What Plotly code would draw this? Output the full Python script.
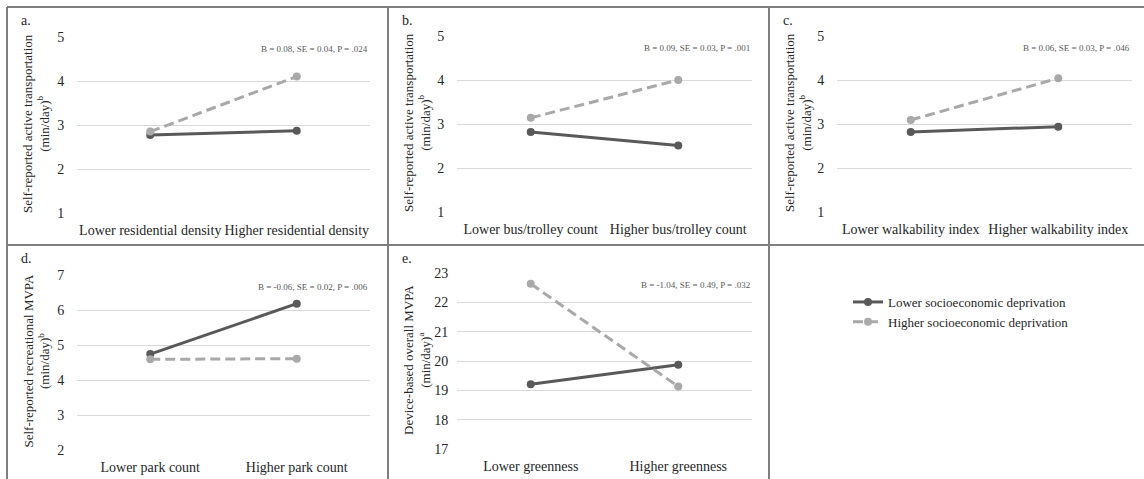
import plotly.graph_objects as go

W, H = 1144, 479
FONT = "Liberation Serif, Times New Roman, serif"
DARK = "#595959"
LIGHT = "#a9a9a9"
GRID = "#d9d9d9"
BORDER = "#7f7f7f"
TXT = "#262626"

series_names = ["Lower socioeconomic deprivation", "Higher socioeconomic deprivation"]

# panel a
cats_a = ["Lower residential density", "Higher residential density"]
lower_a = [2.77, 2.87]
higher_a = [2.85, 4.10]
# panel b
cats_b = ["Lower bus/trolley count", "Higher bus/trolley count"]
lower_b = [2.82, 2.51]
higher_b = [3.14, 4.00]
# panel c
cats_c = ["Lower walkability index", "Higher walkability index"]
lower_c = [2.82, 2.94]
higher_c = [3.09, 4.04]
# panel d
cats_d = ["Lower park count", "Higher park count"]
lower_d = [4.74, 6.18]
higher_d = [4.59, 4.61]
# panel e
cats_e = ["Lower greenness", "Higher greenness"]
lower_e = [19.21, 19.87]
higher_e = [22.63, 19.13]

stats = [
    "B = 0.08, SE = 0.04, P = .024",
    "B = 0.09, SE = 0.03, P = .001",
    "B = 0.06, SE = 0.03, P = .046",
    "B = -0.06, SE = 0.02, P = .006",
    "B = -1.04, SE = 0.49, P = .032",
]
ytitles = [
    "Self-reported active transportation<br>(min/day)<sup>b</sup>",
    "Self-reported active transportation<br>(min/day)<sup>b</sup>",
    "Self-reported active transportation<br>(min/day)<sup>b</sup>",
    "Self-reported recreational MVPA<br>(min/day)<sup>b</sup>",
    "Device-based overall MVPA<br>(min/day)<sup>a</sup>",
]
panel_labels = ["a.", "b.", "c.", "d.", "e."]
yranges = [[1, 5], [1, 5], [1, 5], [2, 7], [17, 23]]
ydticks = [1, 1, 1, 1, 1]

panels = [
    (cats_a, lower_a, higher_a),
    (cats_b, lower_b, higher_b),
    (cats_c, lower_c, higher_c),
    (cats_d, lower_d, higher_d),
    (cats_e, lower_e, higher_e),
]

# layout geometry in pixels (left, right, top, bottom) of plotting areas
boxes = [
    (77, 370, 37, 213),
    (457, 752, 36, 212),
    (837, 1132, 36, 212),
    (77, 370, 275, 450),
    (457, 752, 273, 449),
]
ytick_gap = [9, 9, 9, 9, 5]
# panel origin (cell left, cell top)
cells = [(7, 7), (388, 7), (769, 7), (7, 245), (388, 245)]


def px(x):
    return x / W


def py(y):
    return 1 - y / H


fig = go.Figure()
layout = dict(
    width=W, height=H,
    margin=dict(l=0, r=0, t=0, b=0, pad=0, autoexpand=False),
    paper_bgcolor="white", plot_bgcolor="white",
    font=dict(family=FONT, color=TXT, size=13),
    showlegend=True,
    legend=dict(
        x=px(848), y=py(287), xanchor="left", yanchor="top",
        font=dict(family=FONT, size=13, color=TXT),
        bgcolor="rgba(0,0,0,0)", tracegroupgap=0,
    ),
)
annotations = []
shapes = []

for i, ((cats, lo, hi), (l, r, t, b)) in enumerate(zip(panels, boxes)):
    n = i + 1
    xa = "x" if n == 1 else f"x{n}"
    ya = "y" if n == 1 else f"y{n}"
    fig.add_trace(go.Scatter(
        x=cats, y=lo, xaxis=xa, yaxis=ya, mode="lines+markers",
        name=series_names[0], showlegend=(i == 0), legendgroup="lo",
        line=dict(color=DARK, width=3), marker=dict(color=DARK, size=8),
    ))
    fig.add_trace(go.Scatter(
        x=cats, y=hi, xaxis=xa, yaxis=ya, mode="lines+markers",
        name=series_names[1], showlegend=(i == 0), legendgroup="hi",
        line=dict(color=LIGHT, width=3, dash="10px,5px"), marker=dict(color=LIGHT, size=8),
    ))
    xkey = "xaxis" if n == 1 else f"xaxis{n}"
    ykey = "yaxis" if n == 1 else f"yaxis{n}"
    layout[xkey] = dict(
        domain=[px(l), px(r)], anchor=ya, type="category",
        categoryorder="array", categoryarray=cats, range=[-0.5, 1.5],
        showgrid=False, zeroline=False, showline=False, automargin=False,
        ticks="outside", ticklen=4, tickcolor="rgba(0,0,0,0)",
        tickfont=dict(family=FONT, size=14, color=TXT),
    )
    layout[ykey] = dict(
        domain=[py(b), py(t)], anchor=xa, range=yranges[i], dtick=ydticks[i],
        showgrid=True, gridcolor=GRID, gridwidth=1, zeroline=False, showline=False,
        automargin=False,
        ticks="outside", ticklen=ytick_gap[i], tickcolor="rgba(0,0,0,0)",
        tickfont=dict(family=FONT, size=14, color=TXT),
    )
    # stats annotation
    annotations.append(dict(
        text=stats[i], xref=f"{xa} domain", yref=f"{ya} domain", x=1, y=1,
        xanchor="right", yanchor="middle", yshift=-12, showarrow=False,
        font=dict(family=FONT, size=9, color="#595959"),
    ))
    # y title
    cx, cy = cells[i]
    annotations.append(dict(
        text=ytitles[i], xref="paper", yref="paper",
        x=px(cx + 29), y=py((t + b) / 2 - 1), xanchor="center", yanchor="middle",
        textangle=-90, showarrow=False,
        font=dict(family=FONT, size=13, color=TXT),
    ))
    # panel label
    annotations.append(dict(
        text=panel_labels[i], xref="paper", yref="paper",
        x=px(cx + 12), y=py(cy + 13), xanchor="left", yanchor="middle",
        showarrow=False, font=dict(family=FONT, size=14, color=TXT),
    ))

# panel borders
line = dict(color=BORDER, width=2)
for x0, y0, x1, y1 in [
    (7, 7, 1150, 7),      # top
    (7, 7, 7, 485),       # left
    (7, 245, 1150, 245),  # middle horizontal
    (388, 7, 388, 485),   # vertical 1
    (769, 7, 769, 485),   # vertical 2
]:
    shapes.append(dict(type="line", xref="paper", yref="paper",
                       x0=px(x0), y0=py(y0), x1=px(x1), y1=py(y1), line=line))

layout["annotations"] = annotations
layout["shapes"] = shapes
fig.update_layout(**layout)
fig.write_html(
    "out.html",
    config={"displayModeBar": False},
    post_script="document.body.style.margin='0';document.body.style.overflow='hidden';",
)
